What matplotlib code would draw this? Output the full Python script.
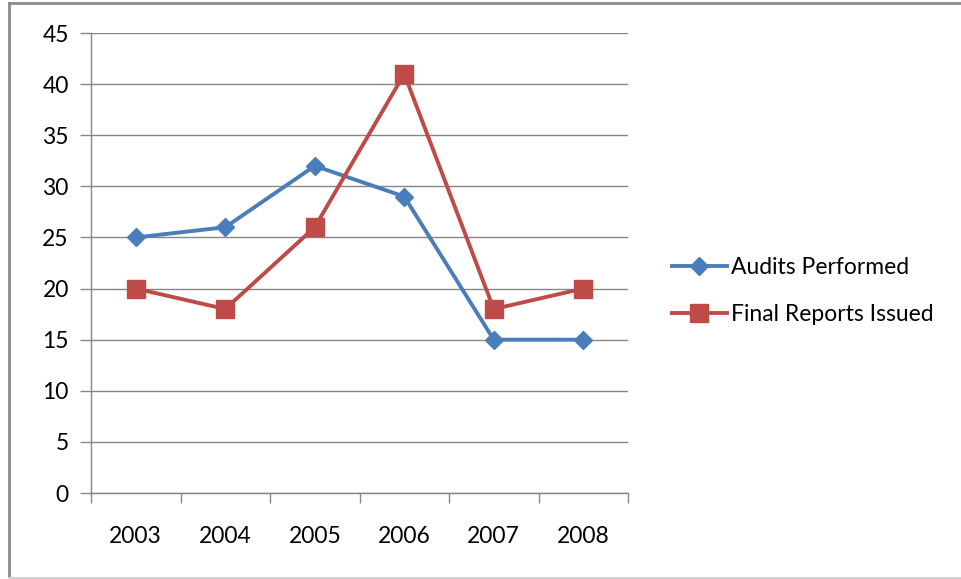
import matplotlib.pyplot as plt
from matplotlib.lines import Line2D

years = ["2003", "2004", "2005", "2006", "2007", "2008"]
audits = [25, 26, 32, 29, 15, 15]
reports = [20, 18, 26, 41, 18, 20]

plt.rcParams['font.family'] = ['Lato', 'DejaVu Sans']

fig = plt.figure(figsize=(9.61, 5.79), dpi=100)
ax = fig.add_axes([91 / 961, 86 / 579, 537 / 961, 460 / 579])

grid_col = "#868686"
x = list(range(len(years)))

ax.plot(x, audits, color="#4A7EBB", lw=2.8, marker="D", ms=9,
        markeredgecolor="#4A7EBB", label="Audits Performed", zorder=3)
ax.plot(x, reports, color="#BE4B48", lw=2.8, marker="s", ms=13,
        markeredgecolor="#BE4B48", label="Final Reports Issued", zorder=3)

ax.set_xlim(-0.5, 5.5)
ax.set_ylim(0, 45)
ax.set_yticks(range(0, 46, 5))
ax.yaxis.grid(True, color=grid_col, lw=1)
ax.set_axisbelow(True)

ax.set_xticks(x)
ax.set_xticklabels(years)
ax.set_xticks([i - 0.5 for i in range(len(years) + 1)], minor=True)
ax.tick_params(axis="x", which="major", length=0, pad=24, labelsize=16.5, colors="#000000")
ax.tick_params(axis="x", which="minor", length=7, width=1, color=grid_col)
ax.tick_params(axis="y", length=8, width=1, color=grid_col, pad=8, labelsize=16.5)

for s in ["top", "right"]:
    ax.spines[s].set_visible(False)
for s in ["left", "bottom"]:
    ax.spines[s].set_color(grid_col)
    ax.spines[s].set_linewidth(1)

ax.legend(loc="center left", bbox_to_anchor=(1.043, 0.439), frameon=False,
          fontsize=16.5, handlelength=2.4, labelspacing=1.15, handletextpad=0.2)

# outer frame of the chart
fig.add_artist(Line2D([9 / 961, 9 / 961], [0.002, 1 - 3 / 579], color="#8c8c8c", lw=2))
fig.add_artist(Line2D([9 / 961, 1], [1 - 3 / 579, 1 - 3 / 579], color="#8c8c8c", lw=2))
fig.add_artist(Line2D([9 / 961, 1], [0.002, 0.002], color="#d0d0d0", lw=1.5))

fig.savefig("out.png", dpi=100)
